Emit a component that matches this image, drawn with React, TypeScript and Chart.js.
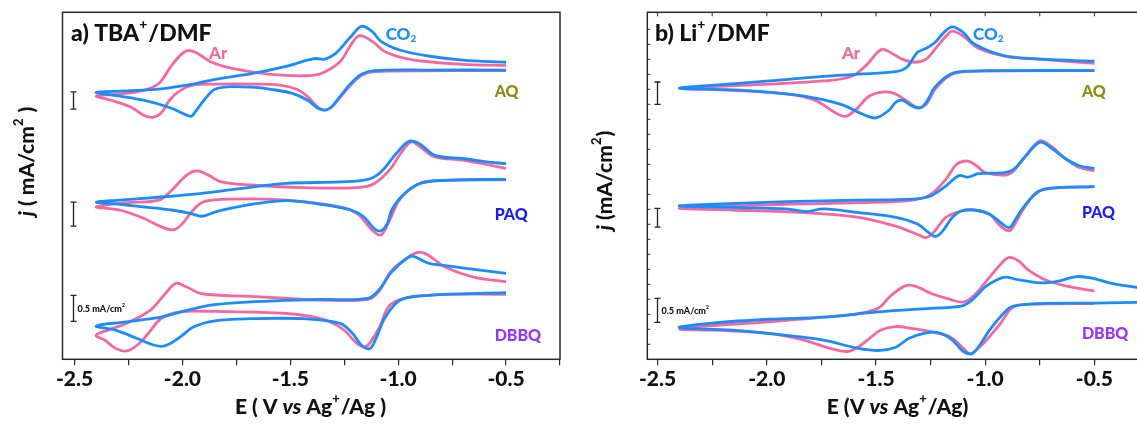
import React, { useEffect, useRef } from "react";
import { Chart, registerables } from "chart.js";
Chart.register(...registerables);

type Pt = [number, number];

const PINK = "#f7679f";
const BLUE = "#1a8cff";
const FONT = "Lato";
const W = "900";

// x-axis ticks (V vs Ag+/Ag); labels on the 0.5 V ones
const xTicks = [-2.5, -2.25, -2.0, -1.75, -1.5, -1.25, -1.0, -0.75, -0.5, -0.25];

// ---------- Panel a) TBA+/DMF  (E in V, j in mA/cm2 incl. stacking offset) ----------
const aqCO2A: Pt[] = [
  [-0.5, 5.54], [-0.86, 5.54], [-1.11, 5.53], [-1.17, 5.46], [-1.22, 5.28], [-1.27, 5.03], [-1.31, 4.83], [-1.34, 4.77],
  [-1.37, 4.8], [-1.42, 4.96], [-1.49, 5.09], [-1.59, 5.17], [-1.68, 5.21], [-1.78, 5.22], [-1.85, 5.17], [-1.9, 4.96],
  [-1.94, 4.74], [-1.96, 4.65], [-2.0, 4.71], [-2.06, 4.82], [-2.18, 4.96], [-2.29, 5.04], [-2.4, 5.11],
  [-2.26, 5.14], [-2.1, 5.18], [-1.95, 5.27], [-1.85, 5.36], [-1.68, 5.47], [-1.52, 5.61], [-1.39, 5.76], [-1.34, 5.75],
  [-1.29, 5.86], [-1.22, 6.18], [-1.17, 6.38], [-1.12, 6.28], [-1.08, 6.09], [-0.99, 5.92], [-0.86, 5.81], [-0.7, 5.73], [-0.5, 5.69],
];
const aqArA: Pt[] = [
  [-0.5, 5.53], [-1.11, 5.51], [-1.17, 5.44], [-1.22, 5.25], [-1.27, 5.01], [-1.31, 4.82], [-1.34, 4.77], [-1.37, 4.82],
  [-1.42, 5.03], [-1.47, 5.17], [-1.55, 5.25], [-1.68, 5.27], [-1.85, 5.27], [-1.95, 5.25], [-2.01, 5.15], [-2.06, 4.96],
  [-2.1, 4.71], [-2.14, 4.63], [-2.18, 4.67], [-2.24, 4.83], [-2.33, 4.96], [-2.4, 5.04],
  [-2.29, 5.08], [-2.18, 5.15], [-2.11, 5.28], [-2.05, 5.63], [-2.0, 5.86], [-1.97, 5.92], [-1.93, 5.86], [-1.87, 5.7],
  [-1.77, 5.57], [-1.6, 5.46], [-1.44, 5.43], [-1.36, 5.47], [-1.27, 5.7], [-1.22, 6.02], [-1.18, 6.2], [-1.12, 6.09],
  [-1.06, 5.89], [-0.94, 5.74], [-0.7, 5.65], [-0.5, 5.63],
];
const paqCO2A: Pt[] = [
  [-0.5, 3.44], [-0.78, 3.42], [-0.9, 3.36], [-0.98, 3.13], [-1.03, 2.85], [-1.05, 2.59], [-1.08, 2.45], [-1.11, 2.49],
  [-1.16, 2.72], [-1.22, 2.85], [-1.36, 2.96], [-1.52, 3.03], [-1.68, 2.96], [-1.78, 2.88], [-1.85, 2.81], [-1.91, 2.73],
  [-1.96, 2.78], [-2.05, 2.85], [-2.18, 2.91], [-2.29, 2.96], [-2.4, 3.0],
  [-2.29, 3.04], [-2.1, 3.1], [-1.91, 3.17], [-1.77, 3.24], [-1.52, 3.36], [-1.27, 3.39], [-1.14, 3.44], [-1.08, 3.58],
  [-1.01, 3.93], [-0.95, 4.17], [-0.9, 4.12], [-0.83, 3.9], [-0.7, 3.84], [-0.6, 3.78], [-0.5, 3.74],
];
const paqArA: Pt[] = [
  [-0.5, 3.43], [-0.78, 3.42], [-0.9, 3.36], [-0.99, 3.07], [-1.04, 2.65], [-1.08, 2.37], [-1.12, 2.46], [-1.19, 2.78],
  [-1.27, 2.91], [-1.52, 3.04], [-1.77, 3.06], [-1.9, 3.01], [-1.95, 2.85], [-2.0, 2.59], [-2.04, 2.47], [-2.1, 2.53],
  [-2.18, 2.69], [-2.29, 2.85], [-2.4, 2.91],
  [-2.26, 2.99], [-2.11, 3.04], [-2.05, 3.23], [-1.98, 3.52], [-1.93, 3.6], [-1.88, 3.52], [-1.82, 3.39], [-1.68, 3.33],
  [-1.44, 3.28], [-1.19, 3.28], [-1.11, 3.36], [-1.04, 3.62], [-0.99, 3.93], [-0.94, 4.16], [-0.9, 4.07], [-0.83, 3.87],
  [-0.7, 3.81], [-0.5, 3.65],
];
const dbbqCO2A: Pt[] = [
  [-0.5, 1.26], [-0.86, 1.21], [-0.99, 1.12], [-1.06, 0.79], [-1.1, 0.41], [-1.13, 0.19], [-1.17, 0.25], [-1.21, 0.47],
  [-1.27, 0.67], [-1.44, 0.76], [-1.68, 0.76], [-1.85, 0.72], [-1.95, 0.6], [-2.01, 0.41], [-2.08, 0.24], [-2.13, 0.25],
  [-2.21, 0.38], [-2.31, 0.54], [-2.4, 0.62],
  [-2.26, 0.7], [-2.1, 0.79], [-1.98, 0.92], [-1.85, 1.03], [-1.6, 1.1], [-1.36, 1.13], [-1.14, 1.15], [-1.09, 1.31],
  [-1.03, 1.66], [-0.96, 1.92], [-0.93, 1.96], [-0.86, 1.83], [-0.76, 1.77], [-0.63, 1.7], [-0.5, 1.63],
];
const dbbqArA: Pt[] = [
  [-0.5, 1.23], [-0.86, 1.21], [-1.03, 1.05], [-1.09, 0.57], [-1.14, 0.25], [-1.16, 0.22], [-1.19, 0.28], [-1.26, 0.57],
  [-1.36, 0.76], [-1.52, 0.86], [-1.85, 0.9], [-2.01, 0.89], [-2.1, 0.76], [-2.16, 0.47], [-2.21, 0.25], [-2.26, 0.14],
  [-2.31, 0.19], [-2.36, 0.35], [-2.4, 0.44],
  [-2.34, 0.55], [-2.26, 0.67], [-2.15, 0.92], [-2.08, 1.24], [-2.03, 1.44], [-1.98, 1.37], [-1.91, 1.24], [-1.68, 1.19],
  [-1.36, 1.12], [-1.14, 1.13], [-1.09, 1.28], [-1.03, 1.69], [-0.94, 1.98], [-0.9, 2.04], [-0.86, 1.98], [-0.78, 1.75],
  [-0.65, 1.56], [-0.5, 1.47],
];

// ---------- Panel b) Li+/DMF ----------
const aqCO2B: Pt[] = [
  [-0.5, 5.53], [-0.91, 5.53], [-1.08, 5.52], [-1.16, 5.46], [-1.23, 5.21], [-1.27, 4.92], [-1.3, 4.81], [-1.34, 4.86],
  [-1.38, 4.96], [-1.41, 4.92], [-1.44, 4.77], [-1.5, 4.62], [-1.56, 4.69], [-1.66, 4.88], [-1.83, 5.04], [-2.07, 5.14],
  [-2.24, 5.17], [-2.4, 5.19],
  [-2.24, 5.25], [-1.99, 5.33], [-1.74, 5.42], [-1.58, 5.46], [-1.41, 5.51], [-1.36, 5.59], [-1.31, 5.88], [-1.27, 5.96],
  [-1.23, 6.07], [-1.19, 6.26], [-1.15, 6.37], [-1.1, 6.26], [-1.05, 6.04], [-0.91, 5.81], [-0.75, 5.75], [-0.5, 5.71],
];
const aqArB: Pt[] = [
  [-0.5, 5.53], [-1.08, 5.51], [-1.16, 5.44], [-1.23, 5.17], [-1.27, 4.88], [-1.31, 4.82], [-1.35, 4.92], [-1.41, 5.08],
  [-1.46, 5.12], [-1.53, 5.04], [-1.59, 4.79], [-1.64, 4.65], [-1.69, 4.73], [-1.78, 4.96], [-1.91, 5.08], [-2.16, 5.15],
  [-2.4, 5.19],
  [-2.24, 5.22], [-1.99, 5.27], [-1.74, 5.33], [-1.61, 5.42], [-1.54, 5.65], [-1.5, 5.85], [-1.47, 5.94], [-1.43, 5.87],
  [-1.38, 5.75], [-1.32, 5.69], [-1.27, 5.75], [-1.23, 5.94], [-1.18, 6.19], [-1.15, 6.29], [-1.1, 6.19], [-1.03, 5.96],
  [-0.91, 5.81], [-0.75, 5.75], [-0.5, 5.67],
];
const paqCO2B: Pt[] = [
  [-0.5, 3.3], [-0.67, 3.28], [-0.75, 3.22], [-0.82, 2.93], [-0.87, 2.61], [-0.89, 2.51], [-0.92, 2.58], [-0.98, 2.77],
  [-1.05, 2.85], [-1.11, 2.83], [-1.15, 2.71], [-1.2, 2.42], [-1.23, 2.34], [-1.26, 2.42], [-1.31, 2.58], [-1.41, 2.71],
  [-1.58, 2.8], [-1.74, 2.87], [-1.82, 2.82], [-1.91, 2.87], [-2.16, 2.9], [-2.4, 2.93],
  [-2.24, 2.96], [-1.91, 3.01], [-1.58, 3.04], [-1.33, 3.06], [-1.25, 3.12], [-1.18, 3.31], [-1.12, 3.51], [-1.08, 3.48],
  [-1.03, 3.55], [-0.91, 3.57], [-0.87, 3.63], [-0.82, 3.86], [-0.75, 4.15], [-0.7, 4.05], [-0.63, 3.83], [-0.57, 3.7],
  [-0.5, 3.65],
];
const paqArB: Pt[] = [
  [-0.5, 3.3], [-0.75, 3.22], [-0.82, 2.9], [-0.87, 2.54], [-0.89, 2.45], [-0.93, 2.54], [-0.98, 2.77], [-1.05, 2.85],
  [-1.11, 2.83], [-1.18, 2.71], [-1.23, 2.45], [-1.27, 2.32], [-1.31, 2.38], [-1.41, 2.54], [-1.58, 2.71], [-1.83, 2.8],
  [-2.16, 2.85], [-2.4, 2.88],
  [-2.24, 2.91], [-1.91, 2.96], [-1.58, 2.99], [-1.33, 3.04], [-1.25, 3.15], [-1.18, 3.44], [-1.13, 3.73], [-1.08, 3.79],
  [-1.04, 3.7], [-1.0, 3.57], [-0.91, 3.52], [-0.87, 3.6], [-0.82, 3.86], [-0.75, 4.18], [-0.7, 4.08], [-0.63, 3.83],
  [-0.57, 3.67], [-0.5, 3.6],
];
const dbbqCO2B: Pt[] = [
  [-0.25, 1.08], [-0.5, 1.06], [-0.75, 1.05], [-0.87, 1.0], [-0.91, 0.89], [-0.98, 0.54], [-1.03, 0.22], [-1.06, 0.09],
  [-1.1, 0.13], [-1.15, 0.35], [-1.21, 0.49], [-1.28, 0.48], [-1.35, 0.38], [-1.41, 0.21], [-1.48, 0.15], [-1.58, 0.19],
  [-1.74, 0.35], [-1.91, 0.44], [-2.16, 0.54], [-2.4, 0.59],
  [-2.24, 0.68], [-1.99, 0.75], [-1.74, 0.79], [-1.49, 0.89], [-1.25, 0.96], [-1.11, 1.0], [-1.06, 1.12], [-1.0, 1.37],
  [-0.95, 1.5], [-0.91, 1.56], [-0.85, 1.51], [-0.75, 1.45], [-0.67, 1.48], [-0.58, 1.57], [-0.5, 1.53], [-0.42, 1.44],
  [-0.3, 1.36], [-0.25, 1.33],
];
const dbbqArB: Pt[] = [
  [-0.5, 1.05], [-0.75, 1.04], [-0.87, 0.99], [-0.93, 0.67], [-1.0, 0.32], [-1.05, 0.13], [-1.07, 0.08], [-1.1, 0.19],
  [-1.16, 0.41], [-1.25, 0.51], [-1.33, 0.57], [-1.41, 0.61], [-1.48, 0.54], [-1.53, 0.38], [-1.58, 0.22], [-1.63, 0.13],
  [-1.71, 0.19], [-1.83, 0.35], [-1.99, 0.48], [-2.24, 0.54], [-2.4, 0.56],
  [-2.24, 0.63], [-1.99, 0.7], [-1.74, 0.79], [-1.58, 0.86], [-1.49, 0.96], [-1.43, 1.21], [-1.36, 1.4], [-1.31, 1.37],
  [-1.25, 1.25], [-1.16, 1.13], [-1.1, 1.08], [-1.05, 1.21], [-0.98, 1.56], [-0.92, 1.85], [-0.89, 1.94], [-0.85, 1.88],
  [-0.8, 1.69], [-0.72, 1.5], [-0.62, 1.38], [-0.5, 1.29],
];

// scale bars: [E, j low, j high]
const scaleBarsA: [number, number, number][] = [[-2.507, 4.79, 5.12], [-2.507, 2.54, 3.0], [-2.507, 0.71, 1.21]];
const scaleBarsB: [number, number, number][] = [[-2.503, 4.88, 5.31], [-2.503, 2.52, 2.88], [-2.503, 0.69, 1.15]];

type Seg = { t: string; mode?: "sup" | "sub"; italic?: boolean };
type Label = { segs: Seg[]; E: number; j: number; color: string; size: number };

const labelsA: Label[] = [
  { segs: [{ t: "Ar" }], E: -1.877, j: 5.85, color: PINK, size: 17 },
  { segs: [{ t: "CO" }, { t: "2", mode: "sub" }], E: -1.058, j: 6.23, color: BLUE, size: 17 },
  { segs: [{ t: "AQ" }], E: -0.553, j: 5.12, color: "#8c8a10", size: 16 },
  { segs: [{ t: "PAQ" }], E: -0.553, j: 2.75, color: "#1a1aff", size: 16 },
  { segs: [{ t: "DBBQ" }], E: -0.553, j: 0.44, color: "#9933ff", size: 16 },
];
const labelsB: Label[] = [
  { segs: [{ t: "Ar" }], E: -1.656, j: 5.85, color: PINK, size: 17 },
  { segs: [{ t: "CO" }, { t: "2", mode: "sub" }], E: -1.056, j: 6.23, color: BLUE, size: 17 },
  { segs: [{ t: "AQ" }], E: -0.557, j: 5.12, color: "#8c8a10", size: 16 },
  { segs: [{ t: "PAQ" }], E: -0.557, j: 2.79, color: "#1a1aff", size: 16 },
  { segs: [{ t: "DBBQ" }], E: -0.557, j: 0.46, color: "#9933ff", size: 16 },
];

function drawRich(ctx: CanvasRenderingContext2D, segs: Seg[], x: number, y: number, size: number, color: string, align: "left" | "center") {
  const fontFor = (s: Seg) => `${s.italic ? "italic " : ""}${W} ${s.mode ? Math.round(size * 0.6) : size}px ${FONT}`;
  const widths = segs.map((s) => {
    ctx.font = fontFor(s);
    return ctx.measureText(s.t).width;
  });
  const total = widths.reduce((a, b) => a + b, 0);
  let cx = align === "center" ? x - total / 2 : x;
  ctx.fillStyle = color;
  ctx.textBaseline = "middle";
  ctx.textAlign = "left";
  segs.forEach((s, i) => {
    ctx.font = fontFor(s);
    const dy = s.mode === "sup" ? -size * 0.4 : s.mode === "sub" ? size * 0.28 : 0;
    ctx.fillText(s.t, cx, y + dy);
    cx += widths[i] + (s.mode ? 1 : 0);
  });
}

type PanelCfg = {
  width: number;
  padLeft: number;
  padRight: number;
  xMin: number;
  xMax: number;
  curves: { pts: Pt[]; color: string }[];
  labels: Label[];
  bars: [number, number, number][];
  title: Seg[];
  titleX: number;
  yTitle: Seg[];
  yTitleX: number;
  yTitleY: number;
  xTitle: Seg[];
  xTitleX: number;
  innerTicks: boolean;
};

const panelA: PanelCfg = {
  width: 575,
  padLeft: 62.5,
  padRight: 15,
  xMin: -2.556,
  xMax: -0.25,
  curves: [
    { pts: aqCO2A, color: BLUE }, { pts: paqCO2A, color: BLUE }, { pts: dbbqCO2A, color: BLUE },
    { pts: aqArA, color: PINK }, { pts: paqArA, color: PINK }, { pts: dbbqArA, color: PINK },
  ],
  labels: labelsA,
  bars: scaleBarsA,
  title: [{ t: "a) TBA" }, { t: "+", mode: "sup" }, { t: "/DMF" }],
  titleX: 71,
  yTitle: [{ t: "j", italic: true }, { t: " ( mA/cm" }, { t: "2", mode: "sup" }, { t: " )" }],
  yTitleX: 27,
  yTitleY: 162,
  xTitle: [{ t: "E ( V " }, { t: "vs", italic: true }, { t: " Ag" }, { t: "+", mode: "sup" }, { t: "/Ag )" }],
  xTitleX: 310,
  innerTicks: false,
};

const panelB: PanelCfg = {
  width: 600,
  padLeft: 72.3,
  padRight: 26,
  xMin: -2.547,
  xMax: -0.25,
  curves: [
    { pts: aqCO2B, color: BLUE }, { pts: paqCO2B, color: BLUE }, { pts: dbbqCO2B, color: BLUE },
    { pts: aqArB, color: PINK }, { pts: paqArB, color: PINK }, { pts: dbbqArB, color: PINK },
  ],
  labels: labelsB,
  bars: scaleBarsB,
  title: [{ t: "b) Li" }, { t: "+", mode: "sup" }, { t: "/DMF" }],
  titleX: 80,
  yTitle: [{ t: "j", italic: true }, { t: " (mA/cm" }, { t: "2", mode: "sup" }, { t: ")" }],
  yTitleX: 30,
  yTitleY: 181,
  xTitle: [{ t: "E (V " }, { t: "vs", italic: true }, { t: " Ag" }, { t: "+", mode: "sup" }, { t: "/Ag)" }],
  xTitleX: 322,
  innerTicks: true,
};

function Panel({ cfg }: { cfg: PanelCfg }) {
  const ref = useRef<HTMLCanvasElement>(null);
  useEffect(() => {
    const canvas = ref.current!;
    const decor = {
      id: "cvDecor",
      afterDraw(chart: any) {
        const ctx: CanvasRenderingContext2D = chart.ctx;
        const { left, right, top, bottom } = chart.chartArea;
        const xs = chart.scales.x;
        const ys = chart.scales.y;
        ctx.save();
        ctx.strokeStyle = "#2a2a2a";
        ctx.lineWidth = 1.5;
        ctx.strokeRect(left, top, right - left, bottom - top);
        if (cfg.innerTicks) {
          ctx.lineWidth = 1;
          ctx.beginPath();
          for (let y = bottom - 15; y > top + 5; y -= 15) {
            ctx.moveTo(left, y);
            ctx.lineTo(left + 3, y);
          }
          xTicks.forEach((v) => {
            const px = xs.getPixelForValue(v);
            ctx.moveTo(px, top);
            ctx.lineTo(px, top + 4);
          });
          ctx.stroke();
        }
        ctx.strokeStyle = "#222";
        ctx.lineWidth = 1.3;
        cfg.bars.forEach(([E, j0, j1], i) => {
          const px = Math.round(xs.getPixelForValue(E)) + 0.5;
          const y0 = ys.getPixelForValue(j0);
          const y1 = ys.getPixelForValue(j1);
          ctx.beginPath();
          ctx.moveTo(px, y0);
          ctx.lineTo(px, y1);
          ctx.moveTo(px - 3, y0);
          ctx.lineTo(px + 3, y0);
          ctx.moveTo(px - 3, y1);
          ctx.lineTo(px + 3, y1);
          ctx.stroke();
          if (i === cfg.bars.length - 1) {
            drawRich(ctx, [{ t: "0.5 mA/cm" }, { t: "2", mode: "sup" }], px + 4, (y0 + y1) / 2 + 1, 9, "#111", "left");
          }
        });
        cfg.labels.forEach((l) => {
          drawRich(ctx, l.segs, xs.getPixelForValue(l.E), ys.getPixelForValue(l.j), l.size, l.color, "left");
        });
        drawRich(ctx, cfg.title, cfg.titleX, 34, 23, "#111", "left");
        drawRich(ctx, cfg.xTitle, cfg.xTitleX, 407, 21, "#111", "center");
        ctx.translate(cfg.yTitleX, cfg.yTitleY);
        ctx.rotate(-Math.PI / 2);
        drawRich(ctx, cfg.yTitle, 0, 0, 21, "#111", "center");
        ctx.restore();
      },
    };
    const chart = new Chart(canvas, {
      type: "scatter",
      data: {
        datasets: cfg.curves.map((c) => ({
          data: c.pts.map(([x, y]) => ({ x, y })),
          borderColor: c.color,
          backgroundColor: c.color,
          borderWidth: 2.8,
          showLine: true,
          tension: 0.35,
          pointRadius: 0,
          fill: false,
          order: c.color === BLUE ? 0 : 1,
        })),
      },
      options: {
        animation: false,
        responsive: false,
        maintainAspectRatio: false,
        layout: { padding: { left: cfg.padLeft, right: cfg.padRight, top: 12.3, bottom: 0 } },
        plugins: { legend: { display: false }, tooltip: { enabled: false } },
        scales: {
          x: {
            type: "linear",
            min: cfg.xMin,
            max: cfg.xMax,
            afterBuildTicks: (s: any) => {
              s.ticks = xTicks.map((v) => ({ value: v }));
            },
            afterFit: (s: any) => {
              s.height = 65.7;
            },
            ticks: {
              autoSkip: false,
              maxRotation: 0,
              padding: 1,
              color: "#111",
              font: { family: FONT, size: 21, weight: W },
              callback: (v: any) => {
                const n = Number(v);
                return Math.abs(n * 2 - Math.round(n * 2)) < 1e-6 ? n.toFixed(1) : "";
              },
            },
            grid: { display: true, drawOnChartArea: false, drawTicks: true, tickLength: 6, color: "#2a2a2a", lineWidth: 1.2 },
            border: { display: false },
          },
          y: { display: false, min: -0.02, max: 6.65 },
        },
      } as any,
      plugins: [decor],
    });
    return () => chart.destroy();
  }, [cfg]);
  return (
    <canvas
      ref={ref}
      width={cfg.width}
      height={425}
      style={{ position: "absolute", left: 0, top: 0, width: cfg.width, height: 425 }}
    />
  );
}

export default function App() {
  return (
    <div style={{ position: "absolute", left: 0, top: 0, width: 1137, height: 425, overflow: "hidden", background: "#fff" }}>
      <div style={{ position: "absolute", left: 0, top: 0, width: 575, height: 425, overflow: "hidden" }}>
        <Panel cfg={panelA} />
      </div>
      <div style={{ position: "absolute", left: 575, top: 0, width: 562, height: 425, overflow: "hidden" }}>
        <Panel cfg={panelB} />
      </div>
    </div>
  );
}
